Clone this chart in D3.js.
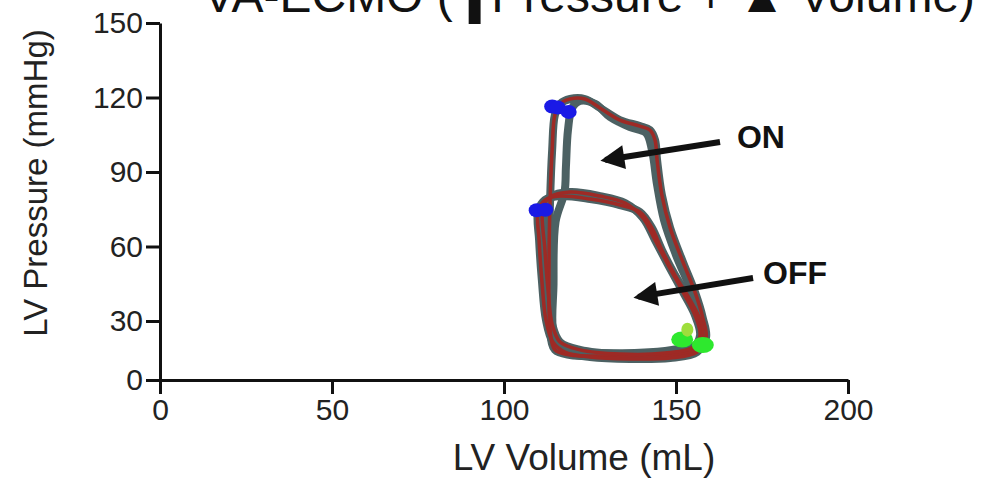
<!DOCTYPE html>
<html lang="en">
<head>
    <meta charset="UTF-8">
    <style>
        body {
            margin: 0;
            padding: 0;
            background-color: #fff;
            overflow: hidden;
        }

        #chart {
            display: block;
        }

        text {
            font-family: "Liberation Sans", Arial, sans-serif;
            fill: #111;
        }

        .axis path,
        .axis line {
            stroke: #111;
            stroke-width: 3px;
        }

        .axis text {
            font-size: 30px;
            fill: #222;
        }

        .beat-gray {
            fill: none;
            stroke: #4c6163;
            stroke-width: 8px;
            stroke-linejoin: round;
        }

        .beat-red {
            fill: none;
            stroke: #9e2a25;
            stroke-width: 3.5px;
            stroke-linejoin: round;
        }
    </style>
</head>
<body>
    <svg id="chart"></svg>

    <script src="https://d3js.org/d3.v7.min.js"></script>
    <script>
        const width = 981;
        const height = 478;

        const svg = d3.select("#chart")
            .attr("width", width)
            .attr("height", height);

        // tick labels
        const volumeTicks = [0, 50, 100, 150, 200];
        const pressureTicks = [0, 30, 60, 90, 120, 150];

        // pressure-volume beats, [volume mL, pressure mmHg]
        const onBeat1 = [
            [113.4, 25.4], [114.8, 15.3], [119.2, 12.7], [127.9, 12.2], [139.5, 12.2],
            [148.3, 12.7], [155.5, 15.3], [158.7, 21.4], [157.8, 31.2], [155.5, 41.7],
            [152.0, 53.8], [148.3, 67.5], [145.9, 80.7], [144.5, 94.8], [143.9, 102.9],
            [142.4, 106.9], [139.5, 108.5], [133.7, 110.9], [127.9, 115.8], [123.5, 119.4],
            [119.2, 119.4], [116.3, 117.4], [114.8, 113.0], [114.0, 98.9], [113.4, 78.7],
            [113.1, 54.6], [113.4, 25.4]
        ];
        const onBeat2 = [
            [114.6, 22.0], [118.0, 14.2], [127.9, 13.6], [139.5, 13.8], [148.8, 15.3],
            [156.4, 18.3], [158.1, 24.6], [157.0, 32.4], [154.1, 43.3], [150.0, 56.6],
            [146.5, 70.7], [144.5, 84.8], [143.0, 98.9], [141.3, 105.7], [136.6, 108.1],
            [130.8, 112.2], [126.5, 117.4], [122.1, 118.6], [119.8, 115.8], [118.6, 106.9],
            [118.0, 92.0], [117.6, 82.0], [115.0, 70.0], [114.4, 45.0], [114.6, 22.0]
        ];
        const offBeat1 = [
            [109.9, 74.1], [111.9, 78.7], [116.3, 80.3], [125.0, 79.1], [133.7, 76.7],
            [139.5, 73.9], [143.0, 67.5], [145.9, 58.6], [149.7, 48.5], [154.1, 38.5],
            [157.0, 30.4], [157.8, 20.3], [156.1, 14.2], [148.3, 11.2], [136.6, 10.7],
            [125.0, 11.7], [117.7, 14.2], [114.2, 19.3], [112.2, 30.4], [111.0, 46.5],
            [110.2, 62.6], [109.9, 74.1]
        ];
        const offBeat2 = [
            [111.3, 75.7], [113.4, 79.9], [119.2, 81.9], [127.9, 80.3], [135.2, 77.5],
            [140.4, 71.5], [143.9, 62.6], [147.7, 52.6], [152.0, 41.7], [155.5, 32.4],
            [157.0, 22.9], [155.2, 16.8], [146.8, 13.7], [133.7, 13.2], [122.1, 15.3],
            [116.3, 19.3], [114.0, 28.4], [112.8, 42.5], [111.9, 58.6], [111.3, 75.7]
        ];

        // end-systolic (blue) and end-diastolic (green) markers
        const esPoints = [[114.0, 116.4], [115.6, 116.0], [118.8, 114.2], [109.5, 74.6], [112.0, 74.8]];
        const edPoints = [[151.8, 20.6], [157.8, 17.8]];
        const edPointsLight = [[153.3, 25.6]];

        // annotation arrows: tail -> tip, label position
        const annLabels = ["ON", "OFF"];
        const annTails = [[162.8, 102.1], [172.4, 47.3]];
        const annTips = [[129.4, 94.8], [139.0, 39.7]];
        const annText = [[167.7, 99.6], [175.3, 44.9]];

        const x = d3.scaleLinear().domain([0, 200]).range([160, 848]);
        // the source figure squeezes the 0-30 band
        const y = d3.scaleLinear().domain([0, 30, 150]).range([380, 321, 23]);

        // title (cut off at the top of the picture)
        const title = svg.append("text")
            .attr("x", 203)
            .attr("y", 12)
            .style("font-size", "48px");
        title.append("tspan").text("VA-ECMO (");
        title.append("tspan")
            .attr("dy", 12)
            .style("font-family", "'DejaVu Sans'")
            .style("font-size", "52px")
            .text("\u2B06");
        title.append("tspan").attr("dy", -12).attr("dx", -5).text("Pressure + ");
        title.append("tspan").text("\u25B2");
        title.append("tspan").text(" Volume)");

        // axes
        svg.append("g")
            .attr("class", "axis")
            .attr("transform", "translate(0,380)")
            .call(d3.axisBottom(x).tickValues(volumeTicks).tickSize(14).tickSizeOuter(0).tickPadding(5));

        svg.append("g")
            .attr("class", "axis")
            .attr("transform", "translate(160,0)")
            .call(d3.axisLeft(y).tickValues(pressureTicks).tickSize(14).tickSizeOuter(0).tickPadding(3));

        svg.selectAll(".axis").attr("font-family", null).attr("font-size", null);

        svg.append("text")
            .attr("x", 584)
            .attr("y", 470)
            .attr("text-anchor", "middle")
            .style("font-size", "37px")
            .style("fill", "#222")
            .text("LV Volume (mL)");

        svg.append("text")
            .attr("transform", "translate(47,183) rotate(-90)")
            .attr("text-anchor", "middle")
            .style("font-size", "33px")
            .style("fill", "#222")
            .text("LV Pressure (mmHg)");

        // loops
        const line = d3.line()
            .x(d => x(d[0]))
            .y(d => y(d[1]))
            .curve(d3.curveCatmullRomClosed.alpha(0.5));

        const beats = [onBeat1, onBeat2, offBeat1, offBeat2];

        svg.append("g").selectAll("path")
            .data(beats)
            .join("path")
            .attr("class", "beat-gray")
            .attr("d", d => line(d.slice(0, -1)));

        svg.append("g").selectAll("path")
            .data([onBeat1, offBeat1, offBeat2])
            .join("path")
            .attr("class", "beat-red")
            .attr("d", d => line(d.slice(0, -1)));

        svg.append("g").selectAll("ellipse")
            .data(esPoints)
            .join("ellipse")
            .attr("cx", d => x(d[0]))
            .attr("cy", d => y(d[1]))
            .attr("rx", 8)
            .attr("ry", 7)
            .attr("fill", "#1a1ae6");

        svg.append("g").selectAll("ellipse")
            .data(edPoints)
            .join("ellipse")
            .attr("cx", d => x(d[0]))
            .attr("cy", d => y(d[1]))
            .attr("rx", 11)
            .attr("ry", 8)
            .attr("fill", "#2ee82e");

        svg.append("g").selectAll("ellipse")
            .data(edPointsLight)
            .join("ellipse")
            .attr("cx", d => x(d[0]))
            .attr("cy", d => y(d[1]))
            .attr("rx", 6)
            .attr("ry", 7)
            .attr("fill", "#9ede3c");

        // arrows
        svg.append("defs").append("marker")
            .attr("id", "head")
            .attr("viewBox", "0 0 10 10")
            .attr("refX", 8)
            .attr("refY", 5)
            .attr("markerWidth", 4.5)
            .attr("markerHeight", 4)
            .attr("orient", "auto")
            .append("path")
            .attr("d", "M0,0 L10,5 L0,10 Z")
            .attr("fill", "#111");

        svg.append("g").selectAll("line")
            .data(annTails)
            .join("line")
            .attr("x1", d => x(d[0]))
            .attr("y1", d => y(d[1]))
            .attr("x2", (d, i) => x(annTips[i][0]))
            .attr("y2", (d, i) => y(annTips[i][1]))
            .attr("stroke", "#111")
            .attr("stroke-width", 6)
            .attr("marker-end", "url(#head)");

        svg.append("g").selectAll("text")
            .data(annLabels)
            .join("text")
            .attr("x", (d, i) => x(annText[i][0]))
            .attr("y", (d, i) => y(annText[i][1]))
            .style("font-size", "32px")
            .style("font-weight", "bold")
            .text(d => d);
    </script>
</body>
</html>
